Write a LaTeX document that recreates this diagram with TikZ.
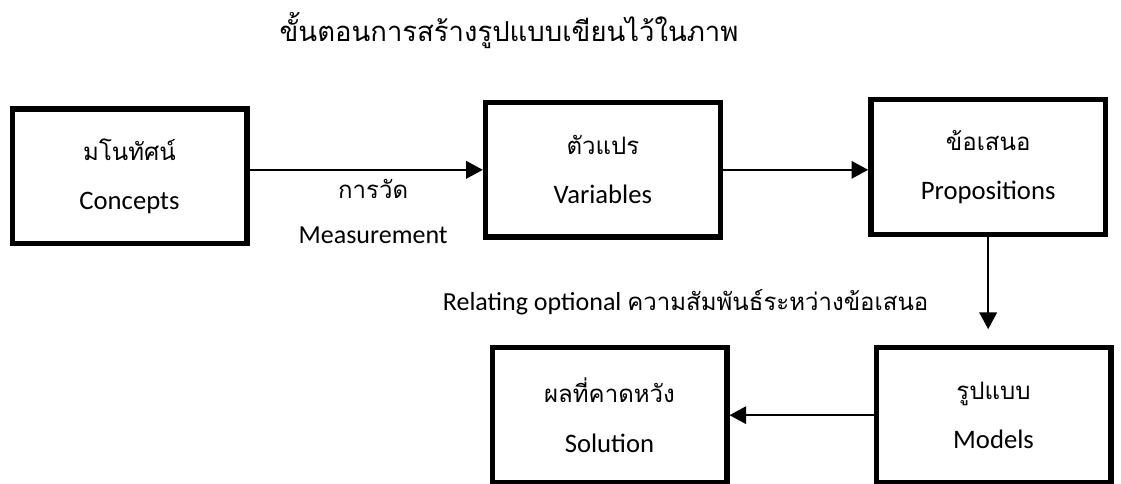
\documentclass[tikz,border=0pt]{standalone}
\usepackage{fontspec}
\setmainfont{Carlito}
\newfontfamily\thaifont[Script=Thai]{Loma}
\usetikzlibrary{arrows.meta,positioning}
\newcommand{\thtxt}[1]{{\thaifont\fontsize{18}{20}\selectfont #1}}
\tikzset{
  stage/.style={rectangle, draw, line width=4pt, align=center, inner sep=0pt,
                minimum width=176pt, minimum height=101pt,
                font=\fontsize{20}{37}\selectfont},
  fl/.style={-{Triangle[length=12.5pt,width=13pt]}, line width=1.8pt},
  lbl/.style={font=\fontsize{19.5}{34}\selectfont, align=center, inner sep=1pt},
  ttl/.style={font=\thaifont\fontsize{20.6}{24}\selectfont, inner sep=0pt},
}

\begin{document}
\begin{tikzpicture}[x=0.75pt, y=-0.75pt]
\useasboundingbox (0,0) rectangle (1121,484);
\node[ttl] (title) at (509,31) {ขั้นตอนการสร้างรูปแบบเขียนไว้ในภาพ};
\node[stage] (concepts) at (129.5,176.5) {\thtxt{มโนทัศน์}\\Concepts};
\node[stage, right=175pt of concepts, yshift=5pt] (variables) {\thtxt{ตัวแปร}\\Variables};
\node[stage, right=109pt of variables, yshift=2pt] (propositions) {\thtxt{ข้อเสนอ}\\Propositions};
\node[stage, below=81pt of propositions, xshift=4pt] (models) {\thtxt{รูปแบบ}\\Models};
\node[stage, left=108pt of models] (solution) {\thtxt{ผลที่คาดหวัง}\\Solution};
% arrows
\draw[fl] (concepts.east |- variables.west) -- node[lbl, pos=0.53, below=5pt] {\thtxt{การวัด}\\Measurement} (variables.west);
\draw[fl] (variables.east) -- (variables.east -| propositions.west);
\draw[fl, shorten >=12pt] (propositions.south) -- node[lbl, pos=0.6, left=43pt] {Relating optional \thtxt{ความสัมพันธ์ระหว่างข้อเสนอ}} (propositions.south |- models.north);
\draw[fl] (models.west) -- (solution.east);
\end{tikzpicture}
\end{document}
